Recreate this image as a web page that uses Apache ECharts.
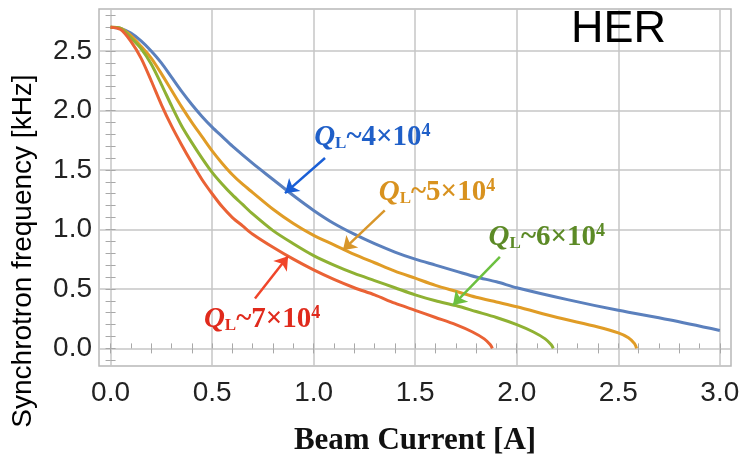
<!DOCTYPE html>
<html>
<head>
<meta charset="utf-8">
<script src="https://cdn.jsdelivr.net/npm/echarts@6/dist/echarts.min.js"></script>
<style>
  html, body { margin: 0; padding: 0; background: #fff; }
  #main { width: 743px; height: 459px; }
</style>
</head>
<body>
<div id="main"></div>
<script>
// tick values
var xMajor = [0, 0.5, 1.0, 1.5, 2.0, 2.5, 3.0];
var yMajor = [0, 0.5, 1.0, 1.5, 2.0, 2.5];
var xMinor = [0, 0.1, 0.2, 0.3, 0.4, 0.5, 0.6, 0.7, 0.8, 0.9, 1.0, 1.1, 1.2, 1.3, 1.4, 1.5,
              1.6, 1.7, 1.8, 1.9, 2.0, 2.1, 2.2, 2.3, 2.4, 2.5, 2.6, 2.7, 2.8, 2.9, 3.0];
var xTop = [0, 0.2, 0.4, 0.6, 0.8, 1.0, 1.2, 1.4, 1.6, 1.8, 2.0, 2.2, 2.4, 2.6, 2.8, 3.0];
var yMinor = [-0.1, 0, 0.1, 0.2, 0.3, 0.4, 0.5, 0.6, 0.7, 0.8, 0.9, 1.0, 1.1, 1.2, 1.3, 1.4,
              1.5, 1.6, 1.7, 1.8, 1.9, 2.0, 2.1, 2.2, 2.3, 2.4, 2.5, 2.6, 2.7, 2.8];

// QL ~ 4e4
var blueX = [0, 0.05, 0.1, 0.15, 0.2, 0.25, 0.3, 0.35, 0.4, 0.45, 0.5, 0.55, 0.6, 0.7, 0.8, 0.9,
             1.0, 1.1, 1.2, 1.3, 1.4, 1.5, 1.6, 1.7, 1.8, 1.9, 2.0, 2.25, 2.5, 2.75, 3.0];
var blueY = [2.70, 2.69, 2.65, 2.585, 2.50, 2.40, 2.28, 2.16, 2.05, 1.95, 1.86, 1.78, 1.70, 1.555, 1.42, 1.285,
             1.16, 1.05, 0.96, 0.88, 0.81, 0.75, 0.70, 0.65, 0.60, 0.56, 0.51, 0.41, 0.32, 0.24, 0.15];
// QL ~ 5e4
var orangeX = [0, 0.05, 0.1, 0.15, 0.2, 0.25, 0.3, 0.35, 0.4, 0.45, 0.5, 0.55, 0.6, 0.65, 0.7, 0.8,
               0.9, 1.0, 1.1, 1.2, 1.3, 1.4, 1.5, 1.6, 1.7, 1.8, 1.9, 2.0, 2.2, 2.4, 2.5, 2.55, 2.58, 2.59];
var orangeY = [2.70, 2.69, 2.63, 2.54, 2.44, 2.31, 2.17, 2.03, 1.90, 1.78, 1.66, 1.555, 1.46, 1.38, 1.31, 1.17,
               1.05, 0.95, 0.87, 0.79, 0.72, 0.65, 0.59, 0.53, 0.48, 0.43, 0.39, 0.35, 0.26, 0.18, 0.13, 0.09, 0.04, 0.0];
// QL ~ 6e4
var greenX = [0, 0.05, 0.1, 0.15, 0.2, 0.25, 0.3, 0.35, 0.4, 0.45, 0.5, 0.55, 0.6, 0.65, 0.7, 0.8,
              0.9, 1.0, 1.1, 1.2, 1.3, 1.4, 1.5, 1.6, 1.7, 1.8, 1.9, 2.0, 2.08, 2.14, 2.17, 2.18];
var greenY = [2.70, 2.69, 2.61, 2.52, 2.39, 2.22, 2.04, 1.87, 1.73, 1.60, 1.48, 1.38, 1.29, 1.21, 1.13, 0.99,
              0.88, 0.78, 0.70, 0.63, 0.57, 0.51, 0.45, 0.40, 0.36, 0.31, 0.26, 0.20, 0.14, 0.08, 0.03, 0.0];
// QL ~ 7e4
var redX = [0, 0.05, 0.1, 0.15, 0.2, 0.25, 0.3, 0.35, 0.4, 0.45, 0.5, 0.55, 0.6, 0.65, 0.7, 0.8,
            0.9, 1.0, 1.1, 1.2, 1.3, 1.4, 1.5, 1.6, 1.7, 1.78, 1.84, 1.87, 1.88];
var redY = [2.70, 2.68, 2.58, 2.44, 2.25, 2.05, 1.87, 1.71, 1.56, 1.42, 1.30, 1.19, 1.10, 1.03, 0.96, 0.85,
            0.75, 0.66, 0.58, 0.51, 0.45, 0.38, 0.32, 0.26, 0.20, 0.14, 0.08, 0.03, 0.0];

var seriesNames = ['QL~4x10^4', 'QL~5x10^4', 'QL~6x10^4', 'QL~7x10^4'];
var qlExp = ['4', '5', '6', '7'];

// label centre / arrow tail / arrow head, in data units
var annotations = [
  { label: [1.289, 1.776], tail: [1.056, 1.60], head: [0.859, 1.305] },
  { label: [1.607, 1.314], tail: [1.35, 1.16], head: [1.144, 0.826] },
  { label: [2.148, 0.935], tail: [1.917, 0.77], head: [1.686, 0.364] },
  { label: [0.746, 0.246], tail: [0.711, 0.42], head: [0.874, 0.775] }
];

var lineColors = ['#5b80bd', '#e09c26', '#8fb133', '#ea6235'];
var textColors = ['#1f5fc8', '#d8921f', '#5c8a26', '#e02a1c'];
var arrowColors = ['#1a5fd6', '#d8962a', '#6cc040', '#f0452a'];

var X_MIN = -0.057, X_MAX = 3.055, Y_MIN = -0.148, Y_MAX = 2.853;

function pairs(xs, ys) {
  return xs.map(function (x, i) { return [x, ys[i]]; });
}

function makeSeries(i, xs, ys) {
  var c = textColors[i];
  var serif = 'Liberation Serif';
  var a = annotations[i];
  return {
    name: seriesNames[i],
    type: 'line',
    data: pairs(xs, ys),
    showSymbol: false,
    smooth: 0.3,
    lineStyle: { color: lineColors[i], width: 3 },
    itemStyle: { color: lineColors[i] },
    markPoint: {
      symbol: 'circle',
      symbolSize: 1,
      silent: true,
      itemStyle: { color: 'rgba(0,0,0,0)' },
      label: {
        show: true,
        position: 'inside',
        formatter: '{q|Q}{s|L}{t|~' + qlExp[i] + '×10}{p|4}',
        rich: {
          q: { fontFamily: serif, fontStyle: 'italic', fontWeight: 'bold', fontSize: 29, lineHeight: 30, color: c },
          s: { fontFamily: serif, fontWeight: 'bold', fontSize: 17, lineHeight: 17, verticalAlign: 'bottom', color: c },
          t: { fontFamily: serif, fontWeight: 'bold', fontSize: 29, lineHeight: 30, color: c },
          p: { fontFamily: serif, fontWeight: 'bold', fontSize: 18, lineHeight: 18, verticalAlign: 'top', color: c }
        }
      },
      data: [{ coord: a.label }]
    },
    markLine: {
      silent: true,
      symbol: ['none', 'arrow'],
      symbolSize: 13,
      label: { show: false },
      lineStyle: { color: arrowColors[i], width: 2.5, type: 'solid' },
      data: [[{ coord: a.tail }, { coord: a.head }]]
    }
  };
}

var tickFont = { fontSize: 28, color: '#222', fontFamily: 'Liberation Sans' };
var minorTick = { show: true, inside: true, length: 5, lineStyle: { color: '#a8a8a8', width: 1 } };

var chart = echarts.init(document.getElementById('main'));
chart.setOption({
  animation: false,
  title: {
    text: 'HER',
    left: 571,
    top: 7,
    padding: 0,
    textStyle: { fontSize: 45, fontWeight: 'normal', fontFamily: 'Liberation Sans', color: '#000' }
  },
  grid: {
    left: 99, right: 12, top: 9, bottom: 93,
    show: true, borderColor: '#b8b8b8', borderWidth: 1.5,
    outerBoundsMode: 'none'
  },
  xAxis: [
    {
      type: 'value', min: X_MIN, max: X_MAX, position: 'bottom',
      axisLine: { show: false },
      axisTick: { show: false, customValues: xMajor },
      axisLabel: Object.assign({ customValues: xMajor, margin: 13, formatter: function (v) { return v.toFixed(1); } }, tickFont),
      splitLine: { show: true, lineStyle: { color: '#c6c6c6', width: 1.5 } },
      name: 'Beam Current [A]',
      nameLocation: 'middle',
      nameGap: 59,
      nameTextStyle: { fontFamily: 'Liberation Serif', fontWeight: 'bold', fontSize: 31, color: '#111' }
    },
    {
      type: 'value', min: X_MIN, max: X_MAX, position: 'bottom',
      axisLine: { show: false }, axisTick: Object.assign({ customValues: xMinor }, minorTick),
      axisLabel: { show: false }, splitLine: { show: false }
    },
    {
      type: 'value', min: X_MIN, max: X_MAX, position: 'top',
      axisLine: { show: false }, axisTick: Object.assign({ customValues: xTop }, minorTick),
      axisLabel: { show: false }, splitLine: { show: false }
    }
  ],
  yAxis: [
    {
      type: 'value', min: Y_MIN, max: Y_MAX, position: 'left',
      axisLine: { show: false },
      axisTick: { show: false, customValues: yMajor },
      axisLabel: Object.assign({ customValues: yMajor, margin: 7, formatter: function (v) { return v.toFixed(1); } }, tickFont),
      splitLine: { show: true, lineStyle: { color: '#c6c6c6', width: 1.5 } },
      name: 'Synchrotron frequency [kHz]',
      nameLocation: 'middle',
      nameGap: 62,
      nameTextStyle: { fontFamily: 'Liberation Sans', fontSize: 28, color: '#000', padding: [0, 127, 0, 0] }
    },
    {
      type: 'value', min: Y_MIN, max: Y_MAX, position: 'left',
      axisLine: { show: false }, axisTick: Object.assign({ customValues: yMinor }, minorTick),
      axisLabel: { show: false }, splitLine: { show: false }
    },
    {
      type: 'value', min: Y_MIN, max: Y_MAX, position: 'right',
      axisLine: { show: false }, axisTick: Object.assign({ customValues: yMinor }, minorTick),
      axisLabel: { show: false }, splitLine: { show: false }
    }
  ],
  series: [
    makeSeries(0, blueX, blueY),
    makeSeries(1, orangeX, orangeY),
    makeSeries(2, greenX, greenY),
    makeSeries(3, redX, redY)
  ]
});
</script>
</body>
</html>
